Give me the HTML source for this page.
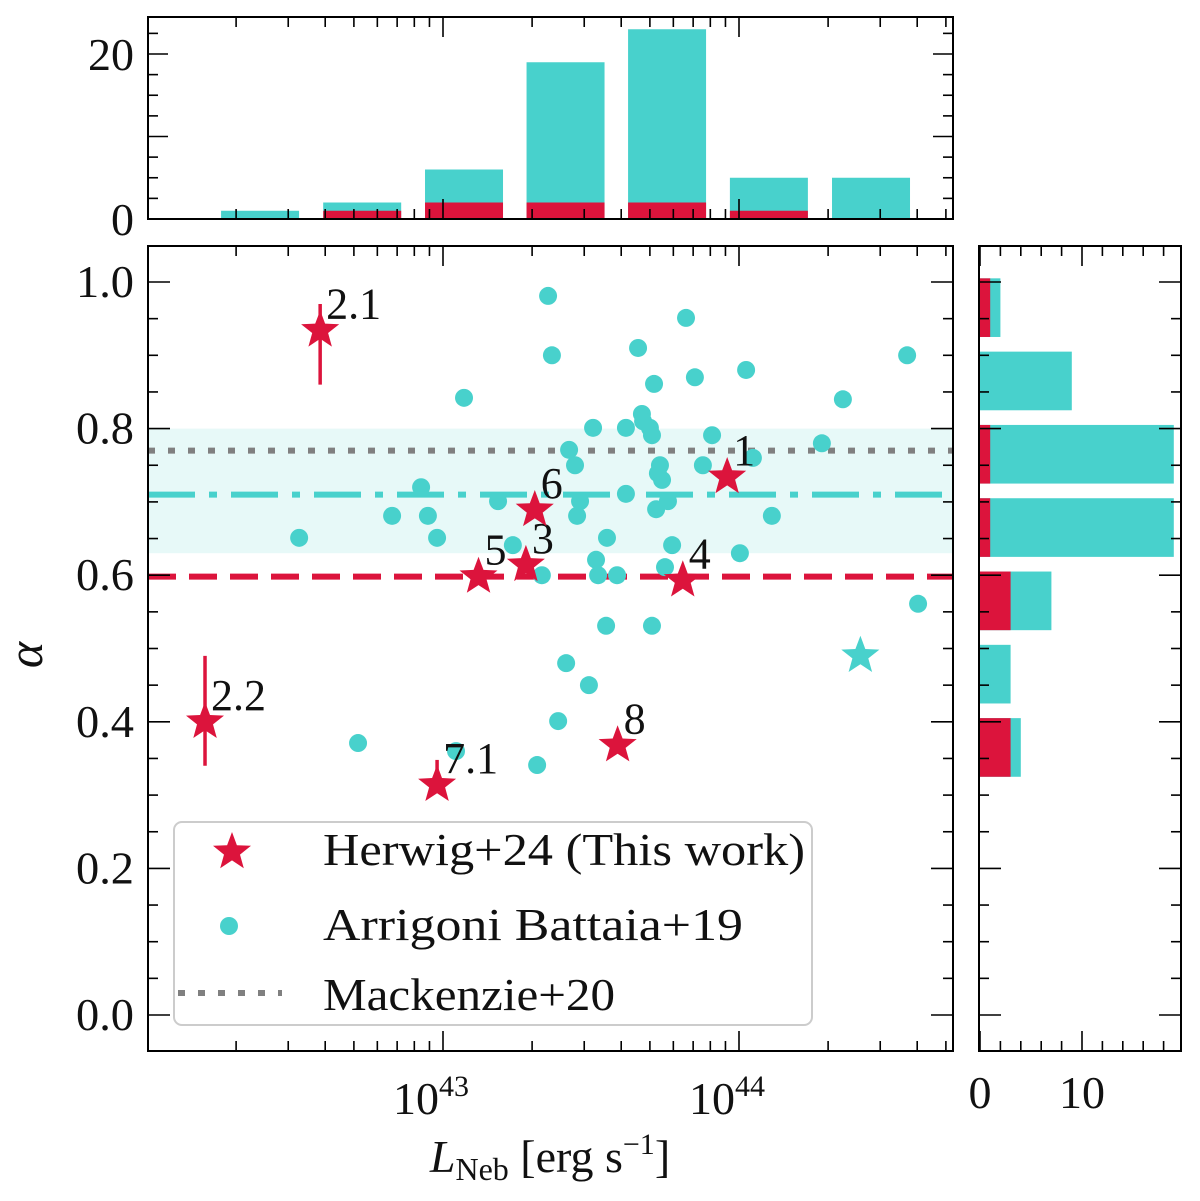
<!DOCTYPE html>
<html><head><meta charset="utf-8"><style>
html,body{margin:0;padding:0;background:#fff}
svg{display:block;font-family:"Liberation Serif",serif}
</style></head><body>
<svg id="c" width="1200" height="1201" viewBox="0 0 1200 1201" xmlns="http://www.w3.org/2000/svg"></svg>
<script>
// ---- data ----
const herwigLogL = [43.96, 42.585, 42.196, 43.28, 43.81, 43.12, 43.31, 42.98, 43.59];
const herwigAlpha = [0.734, 0.934, 0.40, 0.614, 0.593, 0.598, 0.689, 0.314, 0.368];
const herwigLabels = ["1", "2.1", "2.2", "3", "4", "5", "6", "7.1", "8"];
const herwigErrLo = [0, 0.074, 0.06, 0, 0, 0, 0, 0, 0];
const herwigErrHi = [0, 0.036, 0.09, 0, 0, 0, 0, 0.034, 0];
const abLogL = [42.514,42.713,42.828,42.926,42.949,42.980,43.044,43.071,43.186,43.236,43.318,43.334,43.355,43.368,43.389,43.416,43.426,43.446,43.453,43.463,43.493,43.507,43.517,43.524,43.551,43.554,43.588,43.618,43.618,43.659,43.672,43.676,43.699,43.706,43.713,43.720,43.726,43.733,43.740,43.750,43.760,43.774,43.706,43.821,43.851,43.878,43.909,44.003,44.024,44.047,44.111,44.280,44.351,44.568,44.605];
const abAlpha = [0.651,0.371,0.681,0.720,0.681,0.651,0.360,0.842,0.701,0.641,0.341,0.600,0.981,0.900,0.401,0.480,0.771,0.750,0.681,0.701,0.450,0.801,0.621,0.600,0.531,0.651,0.600,0.801,0.711,0.910,0.820,0.810,0.801,0.791,0.861,0.690,0.739,0.750,0.730,0.611,0.701,0.641,0.531,0.951,0.870,0.750,0.791,0.630,0.880,0.760,0.681,0.780,0.840,0.900,0.561];
const abStarLogL = [44.41];
const abStarAlpha = [0.49];
const topBinCenters = [42.382, 42.727, 43.071, 43.414, 43.757, 44.101, 44.446];
const topTotal = [1, 2, 6, 19, 23, 5, 5];
const topRed = [0, 1, 2, 2, 2, 1, 0];
const rightBinCenters = [0.965, 0.865, 0.765, 0.665, 0.565, 0.465, 0.365];
const rightTotal = [2, 9, 19, 19, 7, 3, 4];
const rightRed = [1, 0, 1, 1, 3, 0, 3];
const mackenzie = 0.77, abMean = 0.71, abLo = 0.63, abHi = 0.80, herwigMean = 0.598;
const xTickLabels = ["43", "44"];
const yTickLabels = ["0.0","0.2","0.4","0.6","0.8","1.0"];

const RED="#DC143C", CY="#48D1CC";
const svg=document.getElementById('c');
const NS="http://www.w3.org/2000/svg";
function mk(tag,attrs,parent){const e=document.createElementNS(NS,tag);for(const k in attrs)e.setAttribute(k,attrs[k]);(parent||svg).appendChild(e);return e;}
const MX0=148,MX1=953,MY0=246,MY1=1051;
const xS=l=>443+296*(l-43);
const yS=a=>1015-733*a;
const TY0=17,TY1=219;
const tyS=c=>219-8.25*c;
const RX0=979,RX1=1181;
const rxS=c=>980+10.2*c;

const band=mk('rect',{x:MX0,y:yS(abHi),width:MX1-MX0,height:yS(abLo)-yS(abHi),fill:CY,'fill-opacity':0.13});

const l1=mk('line',{x1:MX0,x2:MX1,y1:yS(mackenzie),y2:yS(mackenzie),stroke:'#808080','stroke-width':6,'stroke-dasharray':'7 13'});

const l2=mk('line',{x1:MX0,x2:MX1,y1:yS(abMean),y2:yS(abMean),stroke:CY,'stroke-width':6,'stroke-dasharray':'47 14 8 14'});

const l3=mk('line',{x1:MX0,x2:MX1,y1:yS(herwigMean),y2:yS(herwigMean),stroke:RED,'stroke-width':6,'stroke-dasharray':'28 13'});


function star(cx,cy,r,fill,name){
  let p=[];for(let i=0;i<10;i++){const rr=i%2?r*0.42:r;const a=-Math.PI/2+i*Math.PI/5;p.push((cx+rr*Math.cos(a)).toFixed(1)+','+(cy+rr*Math.sin(a)).toFixed(1));}
  const e=mk('polygon',{points:p.join(' '),fill:fill});
  return e;
}
abLogL.forEach((l,i)=>{const c=mk('circle',{cx:xS(l),cy:yS(abAlpha[i]),r:9,fill:CY});
});
abStarLogL.forEach((l,i)=>star(xS(l),yS(abStarAlpha[i]),20,CY,'ab-star-point'));
herwigLogL.forEach((l,i)=>{
  const x=xS(l),y=yS(herwigAlpha[i]);
  if(herwigErrLo[i]||herwigErrHi[i]){const e=mk('line',{x1:x,x2:x,y1:yS(herwigAlpha[i]+herwigErrHi[i]),y2:yS(herwigAlpha[i]-herwigErrLo[i]),stroke:RED,'stroke-width':3.5});
  }
  star(x,y,20,RED,'herwig-point');
  const t=mk('text',{x:x+6,y:y-12,'font-size':44,fill:'#111'});t.textContent=herwigLabels[i];
  
});
const bw=0.2635*296;
topBinCenters.forEach((c,i)=>{
  const x=xS(c)-bw/2;
  const b=mk('rect',{x:x,y:tyS(topTotal[i]),width:bw,height:219-tyS(topTotal[i]),fill:CY});
  
  const r=mk('rect',{x:x,y:tyS(topRed[i]),width:bw,height:219-tyS(topRed[i]),fill:RED});
  
});
const bh=0.08*733;
rightBinCenters.forEach((c,i)=>{
  const y=yS(c)-bh/2;
  const b=mk('rect',{x:980,y:y,width:rxS(rightTotal[i])-980,height:bh,fill:CY});
  
  const r=mk('rect',{x:980,y:y,width:rxS(rightRed[i])-980,height:bh,fill:RED});
  
});
function frame(x0,y0,x1,y1,name){const f=mk('rect',{x:x0,y:y0,width:x1-x0,height:y1-y0,fill:'none',stroke:'#000','stroke-width':2});
}
function tick(x1,y1,x2,y2){mk('line',{x1,y1,x2,y2,stroke:'#000','stroke-width':1.6});}
function txt(x,y,s,size,anchor,name,len){const t=mk('text',{x,y,'font-size':size,'text-anchor':anchor||'middle',fill:'#111'});t.textContent=s;
if(len){t.setAttribute('textLength',len);t.setAttribute('lengthAdjust','spacingAndGlyphs');}
return t;}
for(let d=42;d<=44;d++)for(let m=1;m<10;m++){
  const l=d+Math.log10(m);const x=xS(l);if(x<MX0||x>MX1)continue;
  const L=m==1?20:10;
  tick(x,MY1,x,MY1-L);tick(x,MY0,x,MY0+L);tick(x,TY1,x,TY1-L);tick(x,TY0,x,TY0+L);
}
xTickLabels.forEach(s=>{const x=xS(+s);const t=txt(x-12,1114,'10',46,'middle','x-tick-label');
const sp=mk('tspan',{dy:-18,'font-size':30},t);sp.textContent=s;});
for(let k=0;k<=21;k++){const a=k*0.05;const y=yS(a);if(y<MY0)continue;const L=k%4==0?22:10;
  tick(MX0,y,MX0+L,y);tick(MX1,y,MX1-L,y);tick(RX0,y,RX0+L,y);tick(RX1,y,RX1-L,y);}
yTickLabels.forEach(s=>txt(134,yS(+s)+15,s,46,'end','y-tick-label',58));
for(let c=0;c<=24;c+=2.5){const y=tyS(c);const L=c%10==0?20:10;tick(MX0,y,MX0+L,y);tick(MX1,y,MX1-L,y);}
txt(134,tyS(0)+16,'0',46,'end','top-y-tick');txt(134,tyS(20)+16,'20',46,'end','top-y-tick');
for(let c=0;c<=19;c+=2){const x=rxS(c);const L=c%10==0?20:10;tick(x,MY1,x,MY1-L);tick(x,MY0,x,MY0+L);}
txt(rxS(0),1108,'0',46,'middle','right-x-tick');txt(rxS(10),1108,'10',46,'middle','right-x-tick');
frame(MX0,MY0,MX1,MY1,'main-axes');frame(MX0,TY0,MX1,TY1,'top-hist-axes');frame(RX0,MY0,RX1,MY1,'right-hist-axes');
const ya=txt(42,655,'α',50,'middle','y-axis-title');ya.setAttribute('font-style','italic');ya.setAttribute('transform','rotate(-90 42 655)');
const xa=txt(550,1172,'',46,'middle','x-axis-title');
const s1=mk('tspan',{'font-style':'italic'},xa);s1.textContent='L';
const s2=mk('tspan',{dy:8,'font-size':32},xa);s2.textContent='Neb';
const s3=mk('tspan',{dy:-8},xa);s3.textContent=' [erg s';
const s4=mk('tspan',{dy:-18,'font-size':30},xa);s4.textContent='−1';
const s5=mk('tspan',{dy:18},xa);s5.textContent=']';
const lg=mk('rect',{x:174,y:822,width:638,height:203,rx:8,fill:'#fff','fill-opacity':0.8,stroke:'#ccc','stroke-width':2});

star(232,852,20,RED,'legend-herwig-marker');
txt(323,865,'Herwig+24 (This work)',46,'start','legend-herwig-label',482);
const ld=mk('circle',{cx:229,cy:926,r:9,fill:CY});
txt(323,940,'Arrigoni Battaia+19',46,'start','legend-ab-label',420);
const ll=mk('line',{x1:178,x2:282,y1:993,y2:993,stroke:'#808080','stroke-width':6,'stroke-dasharray':'7 13'});

txt(323,1010,'Mackenzie+20',46,'start','legend-mackenzie-label',292);
</script>
</body></html>
